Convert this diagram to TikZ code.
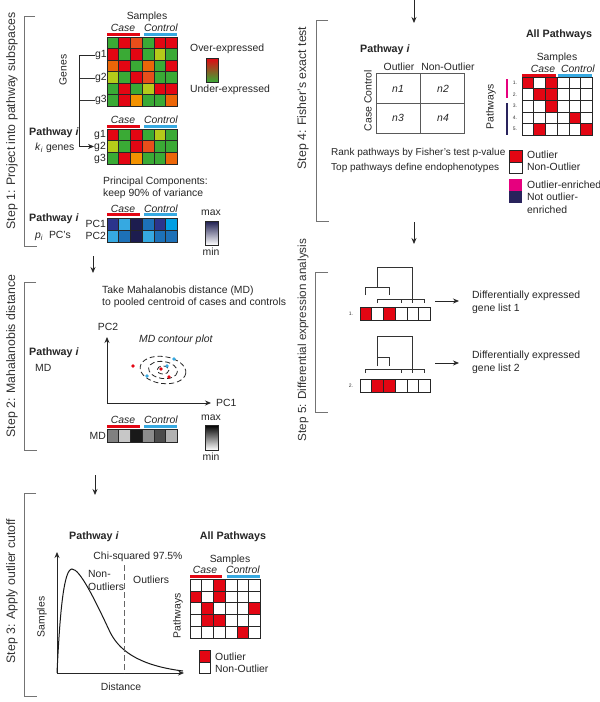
\documentclass[tikz,border=0pt]{standalone}
\usepackage{fontspec}
\setmainfont{Liberation Sans}
\usetikzlibrary{arrows.meta}
\definecolor{hR}{HTML}{E30613}
\definecolor{hG}{HTML}{3AAA35}
\definecolor{hE}{HTML}{E84E1B}
\definecolor{hO}{HTML}{EC6608}
\definecolor{hP}{HTML}{F39200}
\definecolor{hY}{HTML}{B5CB1A}
\definecolor{pN}{HTML}{2B348C}
\definecolor{pL}{HTML}{36A9E1}
\definecolor{pD}{HTML}{1D1D4F}
\definecolor{pM}{HTML}{1D71B8}
\definecolor{pB}{HTML}{009FE3}
\definecolor{casered}{HTML}{E30613}
\definecolor{ctrlblue}{HTML}{36A9E1}
\definecolor{magent}{HTML}{E6007E}
\definecolor{navyc}{HTML}{29235C}
\newcommand\cellrow[5]{%
  \foreach \cc [count=\ii from 0] in {#5} {
    \filldraw[fill=\cc, cellbd] ({#1+\ii*#3},#2) rectangle ++(#3,#4);
  }}
\tikzset{
 txt/.style={font=\fontsize{10.4}{12.5}\selectfont, text=black!85, inner sep=0pt},
 bold/.style={txt, font=\fontsize{10.7}{12.5}\selectfont\bfseries},
 tiny/.style={font=\fontsize{5}{6}\selectfont, text=black!80, inner sep=0pt},
 stepl/.style={rotate=90, font=\fontsize{12.3}{14}\selectfont, text=black!80, inner sep=0pt},
 brk/.style={draw=black!55, line width=1pt},
 arr/.style={-{Stealth[length=6pt,width=5pt]}, line width=0.8pt, draw=black!85},
 casebar/.style={draw=casered, line width=3pt},
 ctrlbar/.style={draw=ctrlblue, line width=3pt},
 cellbd/.style={draw=black!85, line width=0.6pt},
 ln/.style={draw=black!80, line width=0.8pt},
}
\begin{document}
\begin{tikzpicture}[x=1pt,y=-1pt]
\useasboundingbox[fill=white] (0,0) rectangle (600,702);

% ================= STEP 1 =================
\draw[brk] (35,16) -- (24,16) -- (24,246) -- (37,246);
\node[stepl] (step1) at (12,121) {Step 1: Project into pathway subspaces};

\node[txt] (samp1) at (147,17) {Samples};
\node[txt] (case1) at (123,28) {\textit{Case}};
\node[txt] (ctrl1) at (161,28) {\textit{Control}};
\draw[casebar] (107,34) -- (140,34);
\draw[ctrlbar] (144,34) -- (177,34);
\node[txt, rotate=90] (genes) at (63,70) {Genes};

\cellrow{107}{37}{11.7}{11.5}{hG,hR,hE,hG,hR,hR}
\cellrow{107}{48.5}{11.7}{11.5}{hR,hG,hR,hG,hY,hG}
\cellrow{107}{60}{11.7}{11.5}{hO,hR,hG,hO,hG,hR}
\cellrow{107}{71.5}{11.7}{11.5}{hY,hG,hR,hE,hG,hG}
\cellrow{107}{83}{11.7}{11.5}{hG,hR,hG,hY,hR,hR}
\cellrow{107}{94.5}{11.7}{11.5}{hG,hR,hP,hG,hG,hO}

\node[txt, anchor=west] (g1) at (95,55) {g1};
\node[txt, anchor=west] (g2) at (95,78) {g2};
\node[txt, anchor=west] (g3) at (95,100) {g3};

\node[txt, anchor=west] (over) at (190,49) {Over-expressed};
\shade[top color=hR, bottom color=hG, draw=black!85, line width=0.6pt] (206,58) rectangle (218,82);
\node[txt, anchor=west] (under) at (190,90) {Under-expressed};

\node[txt] (case2) at (123,120) {\textit{Case}};
\node[txt] (ctrl2) at (161,120) {\textit{Control}};
\draw[casebar] (107,126) -- (140,126);
\draw[ctrlbar] (144,126) -- (177,126);
\cellrow{107}{129}{11.7}{11.7}{hR,hG,hR,hG,hY,hG}
\cellrow{107}{140.7}{11.7}{11.7}{hY,hG,hR,hE,hG,hG}
\cellrow{107}{152.4}{11.7}{11.7}{hG,hR,hP,hG,hG,hO}
\node[txt, anchor=east] (g1b) at (106,135) {g1};
\node[txt, anchor=east] (g2b) at (106,146.5) {g2};
\node[txt, anchor=east] (g3b) at (106,158.5) {g3};

\draw[ln] (g2.west) -- (79,78);
\draw[ln] (g3.west) -- (79,100);
\draw[arr] (g1.west) -- (79,55) |- (g2b.west);

\node[bold, anchor=west] (pw1) at (29,133) {Pathway \textit{i}};
\node[txt, anchor=west] (kgenes) at (35,148) {\textit{k}\textsubscript{\textit{i}} genes};

\node[txt, anchor=west] (pcomp1) at (103,182) {Principal Components:};
\node[txt, anchor=west] (pcomp2) at (103,194) {keep 90\% of variance};

\node[txt] (case3) at (123,209) {\textit{Case}};
\node[txt] (ctrl3) at (161,209) {\textit{Control}};
\draw[casebar] (107,214.5) -- (140,214.5);
\draw[ctrlbar] (144,214.5) -- (177,214.5);
\cellrow{107}{218}{11.7}{12}{pN,pL,pD,pM,pN,pB}
\cellrow{107}{230}{11.7}{12}{pL,pM,pD,pL,pM,pM}
\node[txt, anchor=east] (pc1r) at (106,224) {PC1};
\node[txt, anchor=east] (pc2r) at (106,236) {PC2};
\node[bold, anchor=west] (pw2) at (29,219) {Pathway \textit{i}};
\node[txt, anchor=west] (ppcs) at (35,236) {\textit{p}\textsubscript{\textit{i}}\ \ PC's};
\node[txt] (max1) at (211,213) {max};
\shade[top color=pD, middle color=pM, bottom color=white, draw=black!85, line width=0.6pt] (205,221) rectangle (218,245);
\node[txt] (min1) at (211,252) {min};

\coordinate (a12s) at (93,256);
\coordinate (a12e) at (93,273);
\draw[arr] (a12s) -- (a12e);

% ================= STEP 2 =================
\draw[brk] (36,282) -- (24,282) -- (24,450) -- (37,450);
\node[stepl] (step2) at (12,356) {Step 2: Mahalanobis distance};

\node[txt, anchor=west] (take1) at (102,291) {Take Mahalanobis distance (MD)};
\node[txt, anchor=west] (take2) at (102,303) {to pooled centroid of cases and controls};
\node[bold, anchor=west] (pw3) at (29,353) {Pathway \textit{i}};
\node[txt, anchor=west] (md1) at (35,368) {MD};

\coordinate (o2) at (107,403);
\node[txt] (pc2ax) at (108,327) {PC2};
\node[txt, anchor=west] (pc1ax) at (216,403) {PC1};
\coordinate (y2top) at (107,337);
\coordinate (x2end) at (211,403);
\draw[arr] (o2) -- (y2top);
\draw[arr] (o2) -- (x2end);
\node[txt] (mdcont) at (176,340) {\textit{MD contour plot}};
\begin{scope}[draw=black!85, line width=0.8pt, dash pattern=on 5pt off 3pt]
\draw[rotate around={-8:(163,370)}] (163,370) ellipse [x radius=23, y radius=13.5];
\draw[rotate around={-8:(163,370)}] (163,370) ellipse [x radius=14.5, y radius=8.5];
\draw (163,370) ellipse [x radius=6, y radius=4];
\end{scope}
\fill[casered] (133,366) circle (1.8);
\fill[ctrlblue] (174,359) circle (1.8);
\fill[casered] (161,369) circle (1.8);
\fill[ctrlblue] (167,366) circle (1.8);
\fill[ctrlblue] (147,376) circle (1.8);
\fill[casered] (169,377) circle (1.8);

\node[txt] (case4) at (123,420) {\textit{Case}};
\node[txt] (ctrl4) at (161,420) {\textit{Control}};
\draw[casebar] (107,426) -- (140,426);
\draw[ctrlbar] (144,426) -- (177,426);
\cellrow{107}{429}{11.7}{13}{black!50,black!22,black!90,black!45,black!70,black!30}
\node[txt, anchor=east] (mdlab) at (106,435.5) {MD};
\node[txt] (max2) at (211,418) {max};
\shade[top color=black, bottom color=white, draw=black!85, line width=0.6pt] (205,425) rectangle (218,450);
\node[txt] (min2) at (211,457) {min};

\coordinate (a23s) at (95,475);
\coordinate (a23e) at (95,495);
\draw[arr] (a23s) -- (a23e);

% ================= STEP 3 =================
\draw[brk] (36,493) -- (24,493) -- (24,696) -- (37,696);
\node[stepl] (step3) at (12,591) {Step 3: Apply outlier cutoff};

\node[bold] (pw4) at (94,537) {Pathway \textit{i}};
\node[bold] (allpw1) at (233,537) {All Pathways};

\coordinate (o3) at (57,673);
\coordinate (y3top) at (57,552);
\coordinate (x3end) at (184,673);
\draw[arr] (o3) -- (y3top);
\draw[arr] (o3) -- (x3end);
\draw[black!90, line width=1pt] (o3) .. controls (60,610) and (64,569) .. (72,569)
  .. controls (80,569) and (95,600) .. (110,632)
  .. controls (118,648) and (135,665) .. (183,671);
\draw[black!60, line width=1pt, dash pattern=on 6pt off 3pt] (124,565) -- (124,673);
\node[txt] (chisq) at (138,557) {Chi-squared 97.5\%};
\node[txt, anchor=west, align=left] (nonout) at (88,580.5) {Non-\\[0.6pt]Outliers};
\node[txt, anchor=west] (outl) at (133,580) {Outliers};
\node[txt, rotate=90] (sampax) at (42,617) {Samples};
\node[txt] (dist) at (121,687) {Distance};

\node[txt] (samp3) at (230,560) {Samples};
\node[txt] (case5) at (205,570) {\textit{Case}};
\node[txt] (ctrl5) at (243,570) {\textit{Control}};
\draw[casebar] (190,576.5) -- (222,576.5);
\draw[ctrlbar] (227,576.5) -- (260,576.5);
\cellrow{190}{579}{11.7}{11.8}{white,white,hR,white,white,white}
\cellrow{190}{590.8}{11.7}{11.8}{hR,white,hR,white,white,white}
\cellrow{190}{602.6}{11.7}{11.8}{white,hR,white,white,white,hR}
\cellrow{190}{614.4}{11.7}{11.8}{white,hR,hR,white,white,white}
\cellrow{190}{626.2}{11.7}{11.8}{white,white,white,white,hR,white}
\node[txt, rotate=90] (pways3) at (178,616) {Pathways};
\filldraw[fill=hR, cellbd] (199,650) rectangle (210,662);
\filldraw[fill=white, cellbd] (199,662) rectangle (210,673);
\node[txt, anchor=west] (leg3a) at (215,657) {Outlier};
\node[txt, anchor=west] (leg3b) at (215,669) {Non-Outlier};

% ================= STEP 4 =================
\coordinate (a4s) at (414,0);
\coordinate (a4e) at (414,23);
\draw[arr] (a4s) -- (a4e);
\draw[brk] (328,20) -- (316,20) -- (316,221) -- (329,221);
\node[stepl] (step4) at (303,98) {Step 4: Fisher's exact test};

\node[bold] (pw5) at (385,50) {Pathway \textit{i}};
\node[txt] (outhdr) at (399,67) {Outlier};
\node[txt] (nonouthdr) at (448,67) {Non-Outlier};
\node[txt, rotate=90] (ctrlrot) at (368,87) {Control};
\node[txt, rotate=90] (caserot) at (368,119) {Case};
\draw[black!65, line width=1pt] (376,73) rectangle (464,133);
\draw[black!65, line width=1pt] (420,73) -- (420,133);
\draw[black!65, line width=1pt] (376,103) -- (464,103);
\node[txt] (n1) at (398,89) {\textit{n1}};
\node[txt] (n2) at (443,89) {\textit{n2}};
\node[txt] (n3) at (398,118) {\textit{n3}};
\node[txt] (n4) at (443,118) {\textit{n4}};

\node[bold] (allpw2) at (559,35) {All Pathways};
\node[txt] (samp4) at (557,58) {Samples};
\node[txt] (case6) at (543,69) {\textit{Case}};
\node[txt] (ctrl6) at (578,69) {\textit{Control}};
\draw[casebar] (522,75) -- (556,75);
\draw[ctrlbar] (558,75) -- (592,75);
\cellrow{522}{77}{11.7}{11.6}{hR,white,hR,white,white,white}
\cellrow{522}{88.6}{11.7}{11.6}{white,hR,hR,white,white,white}
\cellrow{522}{100.2}{11.7}{11.6}{white,white,hR,white,white,white}
\cellrow{522}{111.8}{11.7}{11.6}{white,white,white,white,hR,white}
\cellrow{522}{123.4}{11.7}{11.6}{white,hR,white,white,white,hR}
\node[tiny] (r1) at (515,82.8) {1.};
\node[tiny] (r2) at (515,94.4) {2.};
\node[tiny] (r3) at (515,106) {3.};
\node[tiny] (r4) at (515,117.6) {4.};
\node[tiny] (r5) at (515,129.2) {5.};
\draw[magent, line width=2pt] (507,79) -- (507,98);
\draw[navyc, line width=2pt] (507,103) -- (507,135);
\node[txt, rotate=90] (pways4) at (491,107) {Pathways};

\node[txt, anchor=west, font=\fontsize{10}{12}\selectfont] (rank) at (331,153) {Rank pathways by Fisher's test p-value};
\node[txt, anchor=west, font=\fontsize{10}{12}\selectfont] (topp) at (331,168) {Top pathways define endophenotypes};
\filldraw[fill=hR, cellbd] (509,150) rectangle (522,162);
\filldraw[fill=white, cellbd] (509,162) rectangle (522,173);
\fill[magent] (509,179) rectangle (522,191);
\fill[navyc] (509,191) rectangle (522,203);
\node[txt, anchor=west] (leg4a) at (527,155) {Outlier};
\node[txt, anchor=west] (leg4b) at (527,167) {Non-Outlier};
\node[txt, anchor=west] (leg4c) at (527,184.5) {Outlier-enriched};
\node[txt, anchor=west, align=left] (leg4d) at (527,203) {Not outlier-\\[0.5pt]enriched};

\coordinate (a45s) at (414,222);
\coordinate (a45e) at (414,244);
\draw[arr] (a45s) -- (a45e);

% ================= STEP 5 =================
\draw[brk] (328,272) -- (315,272) -- (315,412) -- (328,412);
\node[stepl, font=\fontsize{11.7}{13}\selectfont] (step5) at (303,340) {Step 5: Differential expression analysis};

\cellrow{360}{307}{11.7}{13}{hR,white,hR,white,white,white}
\cellrow{360}{379}{11.7}{13}{white,hR,hR,white,white,white}
\node[tiny] (l1) at (351,313.5) {1.};
\node[tiny] (l2) at (351,385.5) {2.};

\begin{scope}[ln]
\draw (365.85,295) -- (365.85,287) -- (389.25,287) -- (389.25,295);
\draw (377.55,287) -- (377.55,267) -- (412.65,267) -- (412.65,303);
\draw (377.55,303) -- (377.55,299) -- (424.35,299) -- (424.35,303);
\draw (400.95,299) -- (400.95,303);

\draw (377.55,366) -- (377.55,357) -- (389.25,357) -- (389.25,366);
\draw (377.55,357) -- (377.55,336) -- (412.65,336) -- (412.65,373);
\draw (365.85,373) -- (365.85,369) -- (424.35,369) -- (424.35,373);
\draw (400.95,369) -- (400.95,373);
\end{scope}

\node[txt, anchor=west, align=left] (del1) at (472,302.5) {Differentially expressed\\[1pt]gene list 1};
\node[txt, anchor=west, align=left] (del2) at (472,362.5) {Differentially expressed\\[1pt]gene list 2};
\coordinate (d1s) at (435,301);
\coordinate (d2s) at (435,363);
\draw[arr] (d1s) -- ([xshift=-13pt]del1.west |- d1s);
\draw[arr] (d2s) -- ([xshift=-13pt]del2.west |- d2s);
\end{tikzpicture}
\end{document}
